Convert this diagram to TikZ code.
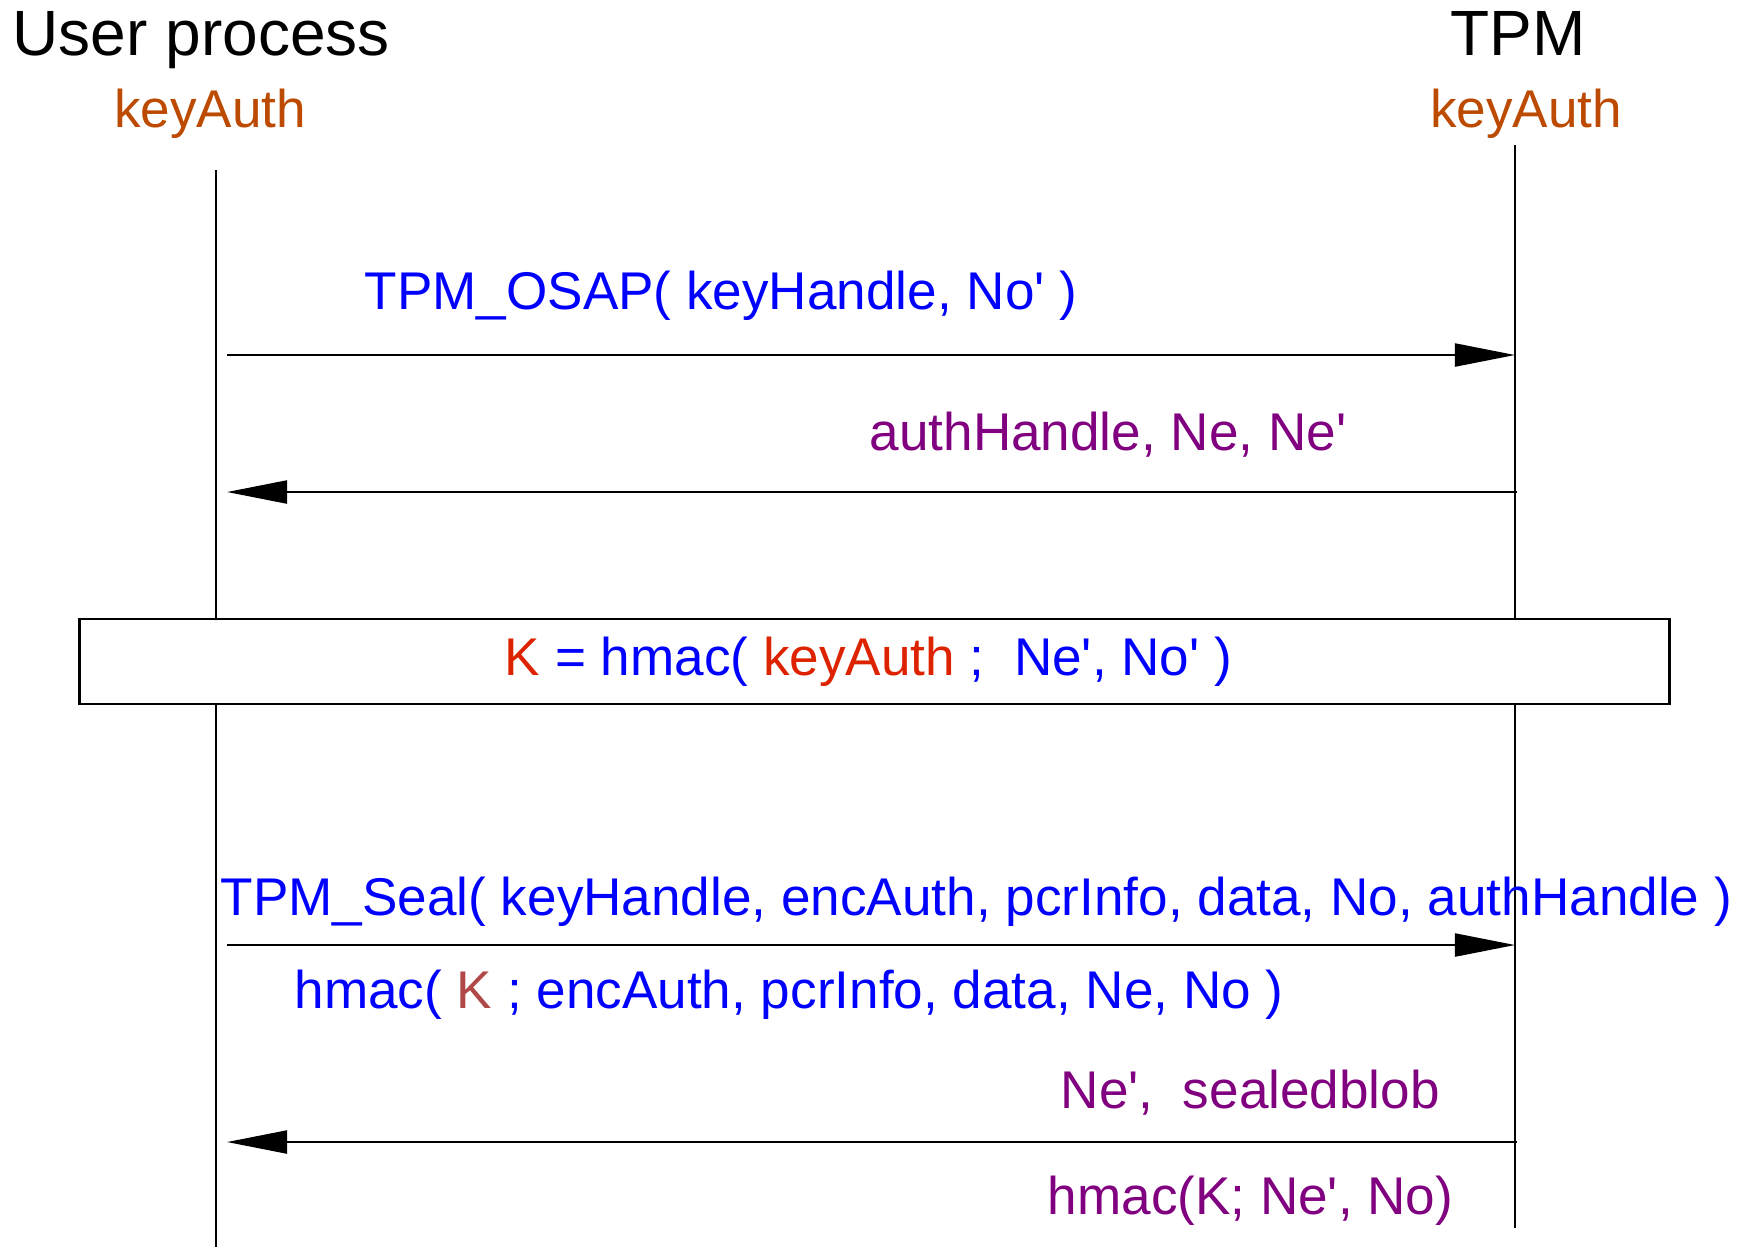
\documentclass[tikz,border=0pt]{standalone}
\usepackage{fontspec}
\setmainfont{Liberation Sans}
\usepackage{tikz}
\usetikzlibrary{positioning}
\usetikzlibrary{arrows.meta}
\definecolor{orangecle}{RGB}{188,74,0}
\definecolor{violetmsg}{RGB}{128,0,128}
\definecolor{rougecle}{RGB}{221,34,0}
\definecolor{rougek}{RGB}{176,72,72}

\begin{document}
\begin{tikzpicture}[x=0.01cm,y=-0.01cm]
% définition des paramètres
\tikzstyle lignevie=[color=black,line width=0.6pt]
\tikzstyle flechemsg=[color=black,line width=0.6pt,-{Triangle[length=0.6cm,width=0.23cm]}]
\tikzstyle titreproc=[font=\fontsize{18.2}{21}\selectfont,inner sep=0pt]
\tikzstyle etiqmsg=[font=\fontsize{15.1}{18}\selectfont,inner sep=0pt,anchor=base west]
\tikzstyle boitecalc=[draw,line width=0.6pt,minimum width=15.89cm,minimum height=0.85cm,inner sep=0pt,font=\fontsize{15.1}{18}\selectfont]
\newcommand{\xuser}{216}  % ligne de vie du processus
\newcommand{\xtpm}{1515}  % ligne de vie du TPM
\newcommand{\q}{\textquotesingle}

\useasboundingbox (0,0) rectangle (1743,1247);

% les en-têtes
\node[titreproc,anchor=base west] (user) at (12,55) {User process};
\node[titreproc,anchor=base] (tpm) at (1518,55) {TPM};
\node[etiqmsg,anchor=base,text=orangecle] (cleuser) at (210,127) {keyAuth};
\node[etiqmsg,anchor=base,text=orangecle] (cletpm) at (1526,127) {keyAuth};

% la boîte du calcul
\node[boitecalc,text=blue] (boite) at (874.5,661.5) {{\color{rougecle}K} = hmac( {\color{rougecle}keyAuth} ;\ \ Ne\q, No\q\ )\mbox{}\hspace*{0.12cm}\mbox{}};

% les lignes de vie
\coordinate (uhaut) at (\xuser,170);
\coordinate (ubas) at (\xuser,1247);
\coordinate (thaut) at (\xtpm,145);
\coordinate (tbas) at (\xtpm,1228);
\draw[lignevie] (uhaut) -- (uhaut |- boite.north);
\draw[lignevie] (ubas |- boite.south) -- (ubas);
\draw[lignevie] (thaut) -- (thaut |- boite.north);
\draw[lignevie] (tbas |- boite.south) -- (tbas);

% les messages
\coordinate (osapg) at (\xuser+11,355);
\coordinate (osapd) at (\xtpm,355);
\coordinate (repg) at (\xuser+11,492);
\coordinate (repd) at (\xtpm+2,492);
\coordinate (sealg) at (\xuser+11,945);
\coordinate (seald) at (\xtpm,945);
\coordinate (blobg) at (\xuser+11,1142);
\coordinate (blobd) at (\xtpm+2,1142);
\draw[flechemsg] (osapg) -- (osapd);
\draw[flechemsg] (repd) -- (repg);
\draw[flechemsg] (sealg) -- (seald);
\draw[flechemsg] (blobd) -- (blobg);

% les étiquettes
\node[etiqmsg,text=blue] (osap) at (364,309) {TPM\_OSAP( keyHandle, No\q\ )};
\node[etiqmsg,text=violetmsg] (rep) at (869,450) {authHandle, Ne, Ne\q};
\node[etiqmsg,text=blue] (seal) at (220,915) {TPM\_Seal( keyHandle, encAuth, pcrInfo, data, No, authHandle )};
\node[etiqmsg,text=blue] (sealmac) at (294,1008) {hmac( {\color{rougek}K} ; encAuth, pcrInfo, data, Ne, No )};
\node[etiqmsg,text=violetmsg] (blob) at (1060,1108) {Ne\q,\ \ sealedblob};
\node[etiqmsg,text=violetmsg] (blobmac) at (1047,1214) {hmac(K; Ne\q, No)};
\end{tikzpicture}
\end{document}
